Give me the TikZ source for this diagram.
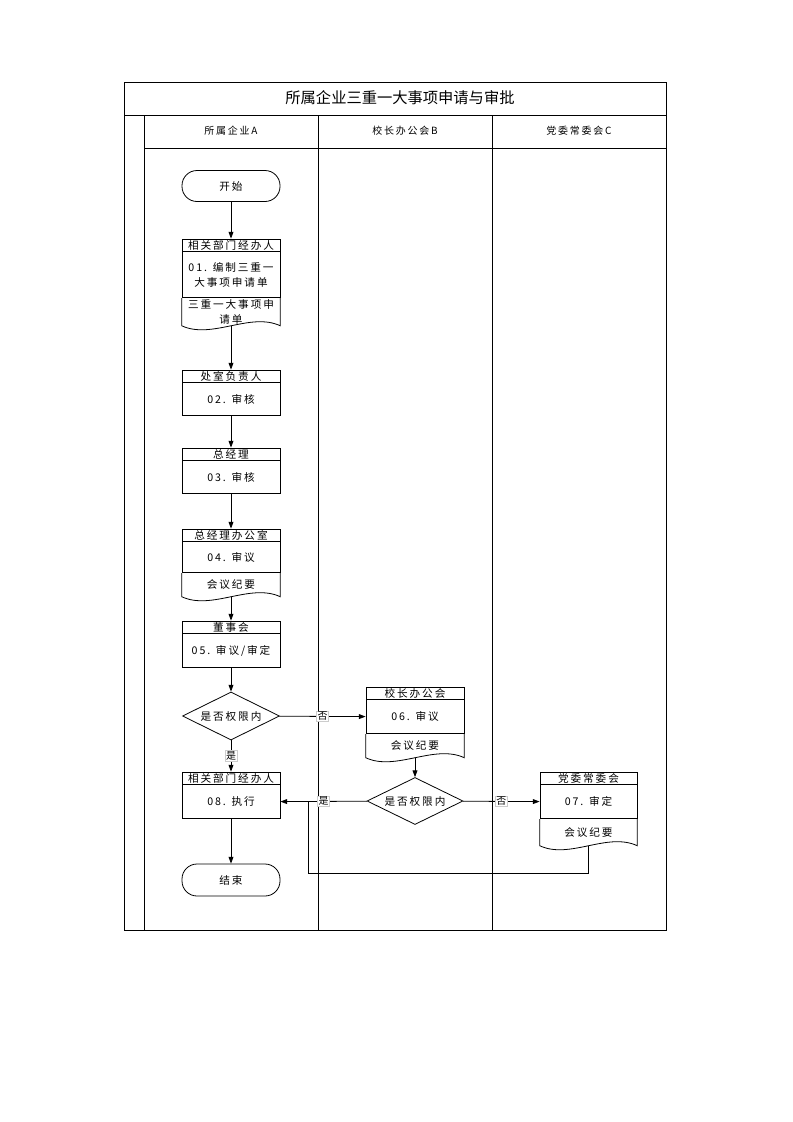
\documentclass[tikz,border=0pt]{standalone}
\usepackage{fontspec}
\setmainfont{Noto Sans CJK SC}
\newfontfamily\boxfont[LetterSpace=18]{Noto Sans CJK SC}
\usetikzlibrary{positioning,shapes.geometric,arrows.meta}
\newlength\pu
\setlength\pu{0.2646mm}
\newcommand\docshape[1]{\draw[line width=0.6pt] (#1.north west) -- (#1.south west) .. controls +(30,14) and +(-30,-14) .. (#1.south east) -- (#1.north east);}
\tikzset{
  frame/.style={line width=0.7pt},
  lanetxt/.style={font=\boxfont\fontsize{7.5}{9}\selectfont},
  hdr/.style={draw,line width=0.6pt,minimum width=98\pu,minimum height=12\pu,inner sep=0pt,font=\boxfont\fontsize{8}{9}\selectfont},
  task/.style={draw,line width=0.6pt,minimum width=98\pu,minimum height=33\pu,inner sep=1pt,align=center,font=\boxfont\fontsize{8}{11}\selectfont},
  docbox/.style={minimum width=98\pu,inner sep=1pt,align=center,font=\boxfont\fontsize{8}{11}\selectfont},
  term/.style={draw,line width=0.6pt,rounded corners=15\pu,minimum width=98\pu,minimum height=31\pu,font=\boxfont\fontsize{8}{9}\selectfont},
  decision/.style={draw,diamond,aspect=2,line width=0.6pt,minimum width=97\pu,minimum height=48\pu,inner sep=0pt,font=\boxfont\fontsize{8}{9}\selectfont},
  flow/.style={-{Triangle[length=5pt,width=3.6pt]},line width=0.6pt},
  tag/.style={fill=white,draw=gray!40,inner sep=0.8pt,font=\fontsize{7.5}{9}\selectfont}
}
\begin{document}
\begin{tikzpicture}[x=0.2646mm,y=-0.2646mm]
\useasboundingbox (0,0) rectangle (793,1122);
% frame and lanes
\draw[frame] (124,82) rectangle (666,930);
\draw[frame] (124,115) -- (666,115);
\draw[frame] (144,148) -- (666,148);
\draw[frame] (144,115) -- (144,930);
\draw[frame] (318,115) -- (318,930);
\draw[frame] (492,115) -- (492,930);
\node[font=\fontsize{11.5}{13}\selectfont] (title) at (400,98) {所属企业三重一大事项申请与审批};
\node[lanetxt] (laneA) at (231,131) {所属企业A};
\node[lanetxt] (laneB) at (405,131) {校长办公会B};
\node[lanetxt] (laneC) at (579,131) {党委常委会C};
% lane A
\node[term] (start) at (231,186) {开始};
\node[hdr] (t01h) at (231,245) {相关部门经办人};
\node[task,minimum height=46\pu,below=0pt of t01h] (t01) {01. 编制三重一\\大事项申请单};
\node[docbox,minimum height=25\pu,below=0pt of t01] (t01d) {三重一大事项申\\请单};
\docshape{t01d}
\node[hdr] (t02h) at (231,376) {处室负责人};
\node[task,below=0pt of t02h] (t02) {02. 审核};
\node[hdr] (t03h) at (231,454) {总经理};
\node[task,below=0pt of t03h] (t03) {03. 审核};
\node[hdr] (t04h) at (231,535) {总经理办公室};
\node[task,minimum height=31\pu,below=0pt of t04h] (t04) {04. 审议};
\node[docbox,minimum height=23\pu,below=0pt of t04] (t04d) {会议纪要};
\docshape{t04d}
\node[hdr] (t05h) at (231,627) {董事会};
\node[task,minimum height=34\pu,below=0pt of t05h] (t05) {05. 审议/审定};
\node[decision] (dA) at (231,716) {是否权限内};
\node[hdr] (t08h) at (231,778) {相关部门经办人};
\node[task,minimum height=34\pu,below=0pt of t08h] (t08) {08. 执行};
\node[term,minimum height=32\pu] (stop) at (231,880) {结束};
% lane B
\node[hdr] (t06h) at (415,693) {校长办公会};
\node[task,minimum height=34\pu,below=0pt of t06h] (t06) {06. 审议};
\node[docbox,minimum height=23\pu,below=0pt of t06] (t06d) {会议纪要};
\docshape{t06d}
\node[decision,minimum width=96\pu,minimum height=47\pu] (dB) at (415,801) {是否权限内};
% lane C
\node[hdr,minimum width=97\pu] (t07h) at (588.5,778) {党委常委会};
\node[task,minimum width=97\pu,minimum height=34\pu,below=0pt of t07h] (t07) {07. 审定};
\node[docbox,minimum width=97\pu,minimum height=26\pu,below=0pt of t07] (t07d) {会议纪要};
\docshape{t07d}
% connectors
\draw[flow] (start) -- (t01h);
\draw[flow] (t01d.south) -- (t02h);
\draw[flow] (t02) -- (t03h);
\draw[flow] (t03) -- (t04h);
\draw[flow] (t04d.south) -- (t05h);
\draw[flow] (t05) -- (dA);
\draw[flow] (dA) -- node[tag] {是} (t08h);
\draw[flow] (dA) -- node[tag] {否} (t06);
\draw[flow] (t06d.south) -- (dB);
\draw[flow] (dB) -- node[tag] {是} (t08);
\draw[flow] (dB) -- node[tag] {否} (t07);
\draw[flow] (t08) -- (stop);
\coordinate (back1) at (308,873);
\coordinate (back2) at (308,801);
\draw[line width=0.6pt] (t07d.south) |- (back1) -- (back2);
\end{tikzpicture}
\end{document}
